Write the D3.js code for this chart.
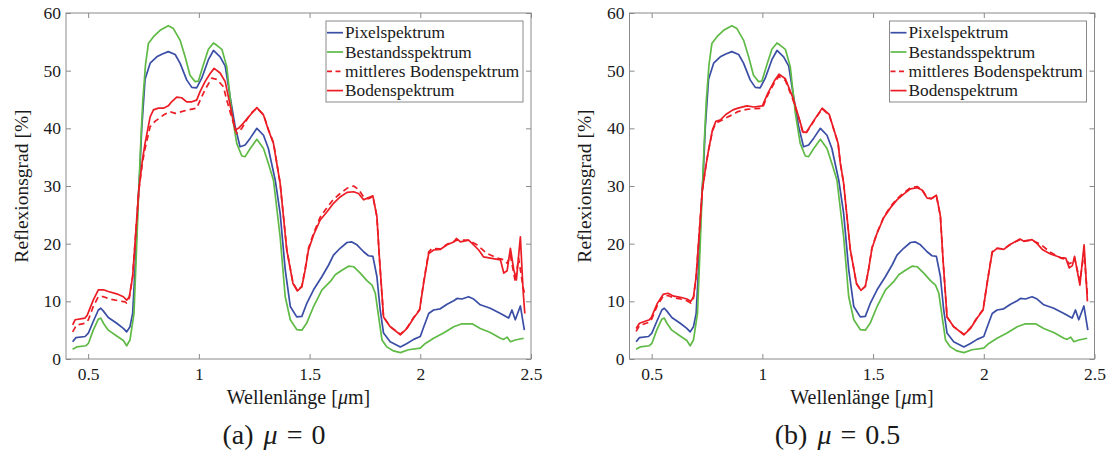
<!DOCTYPE html>
<html>
<head>
<meta charset="utf-8">
<script src="https://cdn.jsdelivr.net/npm/d3@7"></script>
<style>
  body { margin: 0; background: #fff; }
  text { font-family: "Liberation Serif", "Times New Roman", serif; fill: #1a1a1a; }
</style>
</head>
<body>
<svg id="chart" width="1110" height="453"></svg>
<script>
// Axis ticks
const xTicks = [0.5, 1, 1.5, 2, 2.5];
const yTicks = [0, 10, 20, 30, 40, 50, 60];
const xDomain = [0.4, 2.5];
const yDomain = [0, 60];

// Legend entries and panel captions
const seriesNames = ["Pixelspektrum", "Bestandsspektrum", "mittleres Bodenspektrum", "Bodenspektrum"];
const captionLetters = ["(a)", "(b)"];
const captionMu = ["0", "0.5"];

// Pixel spectrum, [wavelength µm, reflectance %]
const pixelSpectrum = [
  [0.43,3.0],[0.445,3.7],[0.486,3.9],[0.501,4.5],[0.523,6.5],[0.546,8.5],[0.557,8.8],[0.569,8.3],
  [0.591,7.2],[0.629,6.2],[0.659,5.3],[0.674,4.7],[0.689,5.6],[0.701,7.9],[0.713,16.6],[0.724,26.4],
  [0.734,33],[0.742,40],[0.757,48.5],[0.78,51.3],[0.81,52.4],[0.835,52.9],[0.862,53.3],[0.893,52.8],
  [0.915,51.3],[0.945,48.4],[0.968,47.1],[0.99,47],[1.013,48.7],[1.043,51.9],[1.066,53.5],[1.096,52.4],
  [1.119,50.8],[1.141,45.5],[1.164,40.3],[1.186,36.8],[1.209,37.1],[1.232,38.3],[1.262,40],[1.292,38.8],
  [1.314,36.5],[1.345,31],[1.367,25.3],[1.39,15.5],[1.413,9.1],[1.442,7.3],[1.465,7.4],[1.488,9.7],
  [1.518,12],[1.556,14.3],[1.586,16.3],[1.608,18],[1.638,19.2],[1.669,20.2],[1.691,20.3],[1.714,19.8],
  [1.744,18.6],[1.766,17.9],[1.786,17.8],[1.804,14.3],[1.819,8.5],[1.834,4.5],[1.864,3.0],[1.91,2.1],
  [1.94,2.7],[1.97,3.4],[2.0,3.9],[2.015,5.5],[2.038,7.9],[2.06,8.5],[2.09,8.7],[2.121,9.5],
  [2.151,10.1],[2.166,10.5],[2.188,10.4],[2.218,10.8],[2.241,10.4],[2.271,9.4],[2.316,8.8],[2.362,7.9],
  [2.399,7.1],[2.414,8.5],[2.429,6.8],[2.452,9.2],[2.47,5.0]
];

// Canopy spectrum
const bestandSpectrum = [
  [0.43,1.7],[0.448,2.1],[0.49,2.3],[0.501,2.7],[0.523,5.0],[0.546,6.9],[0.557,7.1],[0.569,6.2],
  [0.591,5.0],[0.629,4.0],[0.659,3.2],[0.674,2.3],[0.689,3.3],[0.707,7.9],[0.716,16.6],[0.727,27.6],
  [0.737,37],[0.747,44.9],[0.759,51],[0.772,54.7],[0.795,55.9],[0.825,57],[0.862,57.8],[0.885,57.3],
  [0.915,55.3],[0.938,52.4],[0.96,49.2],[0.983,48.1],[0.998,48.2],[1.02,51],[1.043,53.7],[1.066,54.8],
  [1.081,54.4],[1.104,53.7],[1.126,50.7],[1.149,42.6],[1.171,37.4],[1.194,35.2],[1.209,35.1],[1.232,36.5],
  [1.262,38.1],[1.292,36.5],[1.314,33.9],[1.337,31],[1.367,21.2],[1.39,10.8],[1.413,6.8],[1.442,5.1],
  [1.465,5.0],[1.488,6.3],[1.518,9.1],[1.556,12],[1.593,13.4],[1.616,14.6],[1.646,15.4],[1.676,16.1],
  [1.699,16.0],[1.729,14.9],[1.759,13.6],[1.782,12.8],[1.797,11.4],[1.812,7.3],[1.827,3.3],[1.849,2.1],
  [1.879,1.4],[1.91,1.1],[1.947,1.6],[2.0,1.9],[2.023,2.7],[2.06,3.6],[2.105,4.5],[2.151,5.6],
  [2.188,6.1],[2.234,6.1],[2.271,5.3],[2.316,4.6],[2.362,3.6],[2.377,3.4],[2.392,3.8],[2.407,3.0],
  [2.429,3.3],[2.467,3.6]
];

// Soil spectrum, panel (a)
const bodenSpectrumA = [
  [0.43,5.9],[0.441,6.8],[0.486,7.1],[0.496,7.6],[0.523,10.2],[0.546,12],[0.569,12.0],[0.591,11.7],
  [0.629,11.3],[0.659,10.8],[0.674,10.2],[0.686,10.8],[0.701,14.3],[0.716,22.4],[0.729,29.3],[0.745,34.5],
  [0.757,37.4],[0.78,42],[0.795,43.2],[0.817,43.5],[0.84,43.5],[0.862,43.9],[0.877,44.6],[0.9,45.4],
  [0.922,45.3],[0.945,44.6],[0.968,44.6],[0.99,44.9],[1.006,46.4],[1.028,48.1],[1.051,49.5],[1.069,50.4],
  [1.096,49.6],[1.119,48.1],[1.133,45.5],[1.149,42.6],[1.164,39.7],[1.179,40.0],[1.201,40.9],[1.232,42.3],
  [1.262,43.6],[1.292,42.3],[1.314,39.7],[1.337,37.4],[1.352,33.9],[1.367,30.5],[1.397,18.9],[1.425,13.1],
  [1.445,11.8],[1.465,12.5],[1.48,15.4],[1.495,18.9],[1.518,21.5],[1.548,24.1],[1.578,25.5],[1.608,27],
  [1.638,28.1],[1.669,28.9],[1.699,29],[1.721,28.7],[1.744,27.6],[1.762,27.9],[1.786,28.3],[1.804,24.7],
  [1.816,17.2],[1.834,7.3],[1.864,5.6],[1.91,4.2],[1.94,5.3],[1.97,7.1],[1.997,8.5],[2.015,13.1],
  [2.038,18.3],[2.06,18.9],[2.09,19.0],[2.121,19.8],[2.151,20.3],[2.163,20.9],[2.181,20.3],[2.218,20.6],
  [2.241,19.8],[2.264,18.9],[2.286,17.7],[2.316,17.5],[2.362,17.2],[2.377,14.9],[2.392,15.3],[2.407,19.2],
  [2.422,15.5],[2.434,13.7],[2.452,21.2],[2.464,12],[2.472,7.9]
];

// Mean soil spectrum, panel (a)
const mittelSpectrumA = [
  [0.43,4.7],[0.448,5.9],[0.486,6.2],[0.501,6.8],[0.523,9.1],[0.546,10.8],[0.569,10.8],[0.599,10.4],
  [0.636,10.1],[0.667,9.9],[0.674,9.7],[0.686,10.6],[0.701,14.3],[0.716,22.4],[0.729,29.3],[0.745,34],
  [0.757,36.5],[0.78,40.3],[0.802,41.2],[0.84,42.3],[0.87,42.9],[0.893,42.6],[0.922,42.9],[0.952,43.2],
  [0.99,43.5],[1.006,44.9],[1.028,46.7],[1.058,48.7],[1.081,48.5],[1.111,47.2],[1.126,44.9],[1.149,41.8],
  [1.171,39.1],[1.194,40],[1.232,42.5],[1.262,43.5],[1.292,42.4],[1.314,39.8],[1.337,37.5],[1.352,34],
  [1.367,30.5],[1.397,19],[1.425,13.2],[1.445,11.9],[1.465,12.6],[1.48,15.6],[1.495,19.2],[1.518,21.8],
  [1.548,24.6],[1.578,26.2],[1.608,27.7],[1.638,28.7],[1.669,29.6],[1.699,30],[1.721,29.4],[1.744,28.1],
  [1.766,27.8],[1.786,28.2],[1.804,24.7],[1.816,17.2],[1.834,7.3],[1.864,5.6],[1.91,4.3],[1.94,5.4],
  [1.97,7.2],[1.997,8.6],[2.015,13.3],[2.038,18.6],[2.053,19.2],[2.09,19.1],[2.121,19.9],[2.166,20.6],
  [2.218,20.6],[2.256,19.8],[2.301,18.3],[2.347,17.5],[2.377,17.2],[2.392,16.6],[2.407,18],[2.429,13.4],
  [2.444,17.5],[2.464,12.5],[2.47,11.5]
];

// Soil spectrum, panel (b)
const bodenSpectrumB = [
  [0.43,5.3],[0.445,6.2],[0.49,6.8],[0.5,7.3],[0.525,9.6],[0.552,11.2],[0.574,11.4],[0.6,10.9],
  [0.63,10.7],[0.659,10.4],[0.677,10.0],[0.689,10.8],[0.701,14.3],[0.716,22.4],[0.729,29.3],[0.745,33.5],
  [0.756,36],[0.775,39.8],[0.79,41.2],[0.812,41.5],[0.835,42.4],[0.867,43.2],[0.89,43.5],[0.93,43.9],
  [0.962,43.7],[1.0,43.9],[1.025,46.1],[1.057,48.4],[1.075,49.4],[1.104,48.6],[1.136,45.5],[1.168,41.5],
  [1.184,39.3],[1.2,39.4],[1.23,41.2],[1.27,43.5],[1.302,42.4],[1.342,37.4],[1.352,34],[1.367,30.5],
  [1.397,19],[1.425,13.1],[1.445,11.9],[1.465,12.6],[1.48,15.6],[1.495,19.2],[1.518,21.8],[1.548,24.5],
  [1.578,26.2],[1.608,27.6],[1.638,28.6],[1.669,29.5],[1.699,29.7],[1.721,29.3],[1.744,27.9],[1.762,27.8],
  [1.786,28.4],[1.804,24.8],[1.816,17.2],[1.834,7.3],[1.864,5.6],[1.91,4.2],[1.94,5.3],[1.97,7.1],
  [1.997,8.5],[2.015,13.1],[2.038,18.5],[2.06,19.2],[2.09,19.0],[2.121,19.9],[2.163,20.8],[2.181,20.4],
  [2.218,20.7],[2.241,20.0],[2.264,19.0],[2.301,18.2],[2.347,17.6],[2.37,17.5],[2.386,15.8],[2.4,16.2],
  [2.41,17.8],[2.434,12.8],[2.453,19.8],[2.468,10]
];

// Mean soil spectrum, panel (b)
const mittelSpectrumB = [
  [0.43,4.8],[0.445,5.8],[0.49,6.4],[0.5,6.9],[0.525,9.2],[0.552,10.9],[0.574,11.0],[0.6,10.6],
  [0.63,10.4],[0.659,10.1],[0.677,9.7],[0.689,10.6],[0.701,14.3],[0.716,22.4],[0.729,29.3],[0.745,33.5],
  [0.756,36],[0.775,39.6],[0.79,40.9],[0.812,41.3],[0.835,41.8],[0.867,42.4],[0.89,42.9],[0.93,43.3],
  [0.962,43.4],[1.0,43.5],[1.025,45.8],[1.057,48.1],[1.075,49.0],[1.104,48.3],[1.136,45.2],[1.168,41.3],
  [1.184,39.1],[1.2,39.3],[1.23,41.1],[1.27,43.4],[1.302,42.3],[1.342,37.4],[1.352,34],[1.367,30.5],
  [1.397,19],[1.425,13.1],[1.445,11.9],[1.465,12.6],[1.48,15.6],[1.495,19.3],[1.518,21.9],[1.548,24.6],
  [1.578,26.4],[1.608,27.8],[1.638,28.8],[1.669,29.7],[1.699,29.9],[1.721,29.4],[1.744,28.0],[1.762,27.8],
  [1.786,28.3],[1.804,24.8],[1.816,17.2],[1.834,7.3],[1.864,5.6],[1.91,4.3],[1.94,5.4],[1.97,7.2],
  [1.997,8.6],[2.015,13.2],[2.038,18.6],[2.06,19.2],[2.09,19.1],[2.121,19.9],[2.163,20.7],[2.181,20.5],
  [2.218,20.6],[2.256,19.9],[2.301,18.5],[2.347,17.5],[2.37,17.3],[2.386,16.5],[2.4,16.8],[2.41,17.5],
  [2.434,13.5],[2.453,18.5],[2.468,11]
];

const colors = { pixel: "#3a4ea6", bestand: "#5fba46", boden: "#ec1c24" };
const frameColor = "#8a8a8a";
const FONT = '"Liberation Serif", "Times New Roman", serif';

const panels = [
  { left: 66,    caption: 0, mittel: mittelSpectrumA, boden: bodenSpectrumA },
  { left: 629.5, caption: 1, mittel: mittelSpectrumB, boden: bodenSpectrumB }
];

const plotW = 465, plotTop = 13, plotBottom = 359;
const svg = d3.select("#chart");

panels.forEach(p => {
  const x = d3.scaleLinear().domain(xDomain).range([p.left, p.left + plotW]);
  const y = d3.scaleLinear().domain(yDomain).range([plotBottom, plotTop]);
  const g = svg.append("g").style("font-family", FONT);

  // Frame
  g.append("rect")
    .attr("x", p.left).attr("y", plotTop)
    .attr("width", plotW).attr("height", plotBottom - plotTop)
    .attr("fill", "none").attr("stroke", frameColor).attr("stroke-width", 1);

  const styleAxis = (sel, showLabels) => {
    sel.attr("font-family", null).attr("font-size", null);
    sel.select(".domain").remove();
    sel.selectAll(".tick line").attr("stroke", frameColor);
    sel.selectAll(".tick text")
      .style("font-family", FONT)
      .style("font-size", "17.5px")
      .attr("fill", "#1a1a1a");
    if (!showLabels) sel.selectAll(".tick text").remove();
  };

  // Bottom and left axes with inward ticks, mirrored on top and right
  g.append("g").attr("transform", `translate(0,${plotBottom})`)
    .call(d3.axisBottom(x).tickValues(xTicks).tickFormat(d3.format("~g")).tickSizeInner(-5).tickPadding(9))
    .call(s => styleAxis(s, true));
  g.append("g").attr("transform", `translate(0,${plotTop})`)
    .call(d3.axisTop(x).tickValues(xTicks).tickSizeInner(-5))
    .call(s => styleAxis(s, false));
  g.append("g").attr("transform", `translate(${p.left},0)`)
    .call(d3.axisLeft(y).tickValues(yTicks).tickSizeInner(-5).tickPadding(5))
    .call(s => styleAxis(s, true));
  g.append("g").attr("transform", `translate(${p.left + plotW},0)`)
    .call(d3.axisRight(y).tickValues(yTicks).tickSizeInner(-5))
    .call(s => styleAxis(s, false));

  // Spectra
  const line = d3.line().x(d => x(d[0])).y(d => y(d[1]));
  const series = [
    { data: pixelSpectrum, color: colors.pixel, dash: null },
    { data: bestandSpectrum, color: colors.bestand, dash: null },
    { data: p.mittel, color: colors.boden, dash: "6,4" },
    { data: p.boden, color: colors.boden, dash: null }
  ];
  series.forEach(s => {
    g.append("path").datum(s.data)
      .attr("d", line)
      .attr("fill", "none")
      .attr("stroke", s.color)
      .attr("stroke-width", 1.7)
      .attr("stroke-linejoin", "round")
      .attr("stroke-dasharray", s.dash);
  });

  // Legend
  const lx = p.left + 260, ly = 21, lw = 197, lh = 81;
  const lg = g.append("g");
  lg.append("rect").attr("x", lx).attr("y", ly).attr("width", lw).attr("height", lh)
    .attr("fill", "#fff").attr("stroke", frameColor).attr("stroke-width", 1);
  series.forEach((s, i) => {
    const cy = ly + 11.7 + i * 19.3;
    lg.append("line")
      .attr("x1", lx + 1).attr("x2", lx + 17).attr("y1", cy).attr("y2", cy)
      .attr("stroke", s.color).attr("stroke-width", 1.7)
      .attr("stroke-dasharray", s.dash ? "5,3.5" : null);
    lg.append("text")
      .attr("x", lx + 19).attr("y", cy)
      .attr("dominant-baseline", "central")
      .style("font-family", FONT)
      .style("font-size", "17.3px")
      .text(seriesNames[i]);
  });

  // Axis titles
  const xt = g.append("text")
    .attr("x", p.left + plotW / 2).attr("y", 404)
    .attr("text-anchor", "middle")
    .style("font-family", FONT)
    .style("font-size", "20px");
  xt.append("tspan").text("Wellenlänge [");
  xt.append("tspan").style("font-style", "italic").text("μ");
  xt.append("tspan").text("m]");

  g.append("text")
    .attr("transform", `translate(${p.left - 45},${(plotTop + plotBottom) / 2}) rotate(-90)`)
    .attr("text-anchor", "middle")
    .attr("dominant-baseline", "central")
    .style("font-family", FONT)
    .style("font-size", "19.5px")
    .text("Reflexionsgrad [%]");

  // Caption
  const cap = g.append("text")
    .attr("x", p.left + 208).attr("y", 444)
    .attr("text-anchor", "middle")
    .style("font-family", FONT)
    .style("font-size", "28px");
  cap.append("tspan").text(captionLetters[p.caption]);
  cap.append("tspan").attr("dx", 10).style("font-style", "italic").text("μ");
  cap.append("tspan").attr("dx", 9).text("=");
  cap.append("tspan").attr("dx", 9).text(captionMu[p.caption]);
});
</script>
</body>
</html>
